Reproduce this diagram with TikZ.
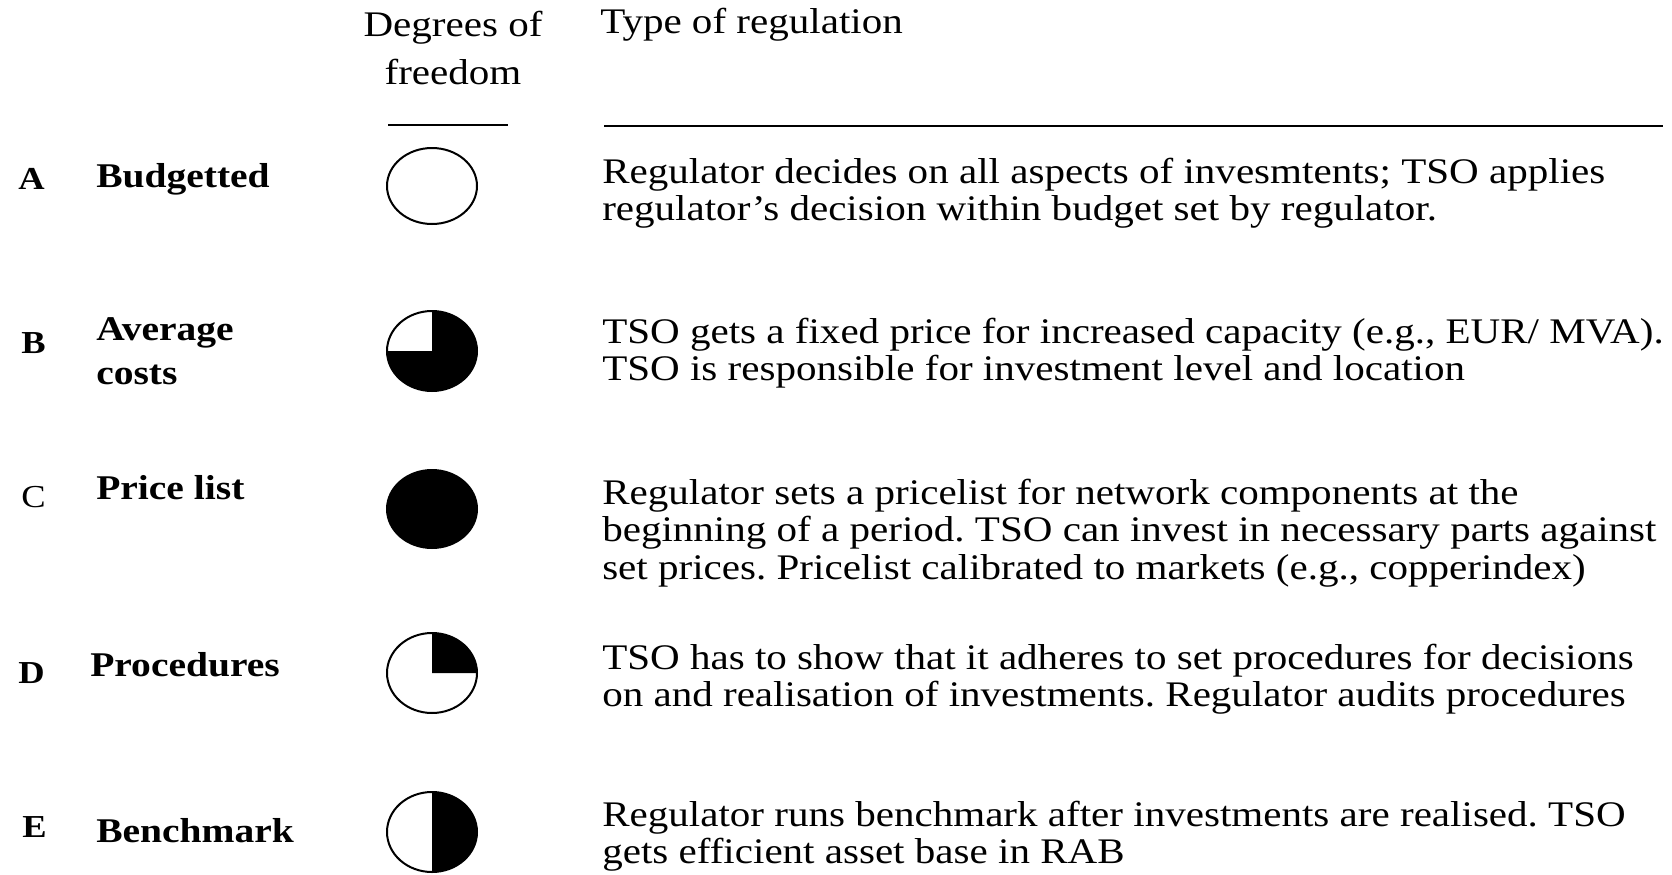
\documentclass[tikz,border=0pt]{standalone}
\usepackage{fontspec}
\setmainfont{Liberation Serif}[FakeStretch=1.14]
\frenchspacing
\begin{document}
\begin{tikzpicture}[x=0.75pt,y=0.75pt,
  every node/.style={inner sep=0pt,font=\fontsize{27}{28}\selectfont},
  header/.style={align=center,font=\fontsize{27}{36.5}\selectfont},
  rowletter/.style={font=\fontsize{24}{28}\selectfont\bfseries},
  category/.style={anchor=west,align=left,font=\fontsize{26}{33}\selectfont\bfseries},
  descr/.style={anchor=west,align=left},
  rule/.style={line width=1.9pt},
  dof/.style={line width=1.5pt}]
\useasboundingbox (0,0) rectangle (1672,-875);
% column heads
\node[header] (hdof) at (453,-48) {Degrees of\\freedom};
\node[descr] (htype) at (600,-25) {Type of regulation};
\draw[rule] (388,-125) -- (508,-125);
\draw[rule] (604,-126) -- (1663,-126);
% row labels
\node[rowletter,anchor=west] (letA) at (18,-179) {A};
\node[category] (catA) at (96,-179) {Budgetted};
\node[rowletter,anchor=west] (letB) at (21,-343) {B};
\node[category] (catB) at (96,-351) {Average\\costs};
\node[anchor=west,font=\fontsize{24}{28}\selectfont] (letC) at (21,-497) {C};
\node[category] (catC) at (96,-488) {Price list};
\node[rowletter,anchor=west] (letD) at (18,-673) {D};
\node[category] (catD) at (90,-665) {Procedures};
\node[rowletter,anchor=west] (letE) at (22,-827) {E};
\node[category] (catE) at (96,-831) {Benchmark};
% degrees of freedom
\coordinate (dofA) at (432,-186);
\coordinate (dofB) at (432,-351);
\coordinate (dofC) at (432,-509);
\coordinate (dofD) at (432,-673);
\coordinate (dofE) at (432,-832);
\draw[dof] (dofA) ellipse [x radius=45, y radius=38];
\fill (dofB) -- ++(0,40) arc[start angle=90, end angle=-180, x radius=45, y radius=40] -- cycle;
\draw[dof] (dofB) ellipse [x radius=45, y radius=40];
\fill (dofC) ellipse [x radius=46, y radius=40];
\fill (dofD) -- ++(45,0) arc[start angle=0, end angle=90, x radius=45, y radius=40] -- cycle;
\draw[dof] (dofD) ellipse [x radius=45, y radius=40];
\fill (dofE) -- ++(0,40) arc[start angle=90, end angle=-90, x radius=45, y radius=40] -- cycle;
\draw[dof] (dofE) ellipse [x radius=45, y radius=40];
% type of regulation
\node[descr] (descA) at (602,-193) {Regulator decides on all aspects of invesmtents; TSO applies\\regulator’s decision within budget set by regulator.};
\node[descr] (descB) at (602,-353) {TSO gets a fixed price for increased capacity (e.g., EUR/ MVA).\\TSO is responsible for investment level and location};
\node[descr] (descC) at (602,-533) {Regulator sets a pricelist for network components at the\\beginning of a period. TSO can invest in necessary parts against\\set prices. Pricelist calibrated to markets (e.g., copperindex)};
\node[descr] (descD) at (602,-679) {TSO has to show that it adheres to set procedures for decisions\\on and realisation of investments. Regulator audits procedures};
\node[descr] (descE) at (602,-836) {Regulator runs benchmark after investments are realised. TSO\\gets efficient asset base in RAB};
\end{tikzpicture}
\end{document}
